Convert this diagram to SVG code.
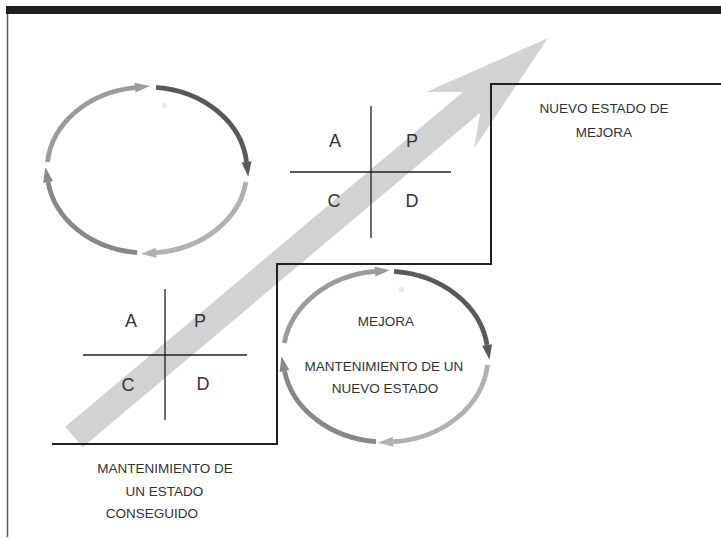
<svg xmlns="http://www.w3.org/2000/svg" width="721" height="539" viewBox="0 0 721 539">
<style>
.t{font-family:"Liberation Sans",Arial,sans-serif;fill:#333;text-anchor:middle}
.lbl{font-size:13.5px}
.big{font-size:18px}
.ln{stroke:#231f20;fill:none}
.arc{fill:none;stroke-width:4.8}
.c1{stroke:#9b9b9d}.c2{stroke:#59595b}.c3{stroke:#b1b1b3}.c4{stroke:#88888a}
</style>
<defs>
<marker id="m1" markerUnits="userSpaceOnUse" markerWidth="20" markerHeight="12" refX="0" refY="6" orient="auto" overflow="visible"><path d="M0,1 L15,6 L0,11 z" fill="#9b9b9d"/></marker>
<marker id="m2" markerUnits="userSpaceOnUse" markerWidth="20" markerHeight="12" refX="0" refY="6" orient="auto" overflow="visible"><path d="M0,1 L15,6 L0,11 z" fill="#59595b"/></marker>
<marker id="m3" markerUnits="userSpaceOnUse" markerWidth="20" markerHeight="12" refX="0" refY="6" orient="auto" overflow="visible"><path d="M0,1 L15,6 L0,11 z" fill="#b1b1b3"/></marker>
<marker id="m4" markerUnits="userSpaceOnUse" markerWidth="20" markerHeight="12" refX="0" refY="6" orient="auto" overflow="visible"><path d="M0,1 L15,6 L0,11 z" fill="#88888a"/></marker>
</defs>
<rect width="721" height="539" fill="#fff"/>
<rect x="6" y="6" width="715" height="8" fill="#231f20"/>
<line x1="7.5" y1="14" x2="7.5" y2="537" stroke="#58585a" stroke-width="1.5"/>

<g id="progress-arrow">
<polygon points="548,38 473.9,148.7 480.2,112.7 82.7,447.3 65.3,426.7 462.8,92.1 426.3,92.1" fill="#d1d2d4"/>
</g>

<g id="connectors">
<polyline class="ln" stroke-width="2" points="52,444 277,444 277,264 491,264 491,84 721,84"/>
</g>

<g id="pdca-top">
<line class="ln" stroke-width="1.3" x1="371" y1="106" x2="371" y2="238"/>
<line class="ln" stroke-width="1.3" x1="290" y1="172" x2="451" y2="172"/>
<text class="t big" x="335" y="147">A</text>
<text class="t big" x="412" y="147">P</text>
<text class="t big" x="334" y="207">C</text>
<text class="t big" x="412" y="207">D</text>
</g>

<g id="pdca-bottom">
<line class="ln" stroke-width="1.3" x1="165" y1="289" x2="165" y2="420"/>
<line class="ln" stroke-width="1.3" x1="83" y1="355" x2="247" y2="355"/>
<text class="t big" x="131" y="327">A</text>
<text class="t big" x="200" y="327">P</text>
<text class="t big" x="128" y="391">C</text>
<text class="t big" x="203" y="390">D</text>
</g>

<g id="cycle-top">
<path class="arc c1" marker-end="url(#m1)" d="M47.46,162.04 A100,83 0 0 1 134.99,87.6"/>
<path class="arc c2" marker-end="url(#m2)" d="M156.06,87.34 A100,83 0 0 1 246.52,161.9"/>
<path class="arc c3" marker-end="url(#m3)" d="M245.95,181.98 A100,83 0 0 1 156.06,252.66"/>
<path class="arc c4" marker-end="url(#m4)" d="M137.07,252.59 A100,83 0 0 1 48.07,182.12"/>
<rect x="162" y="103" width="5" height="5" fill="#e8e8e8"/>
</g>

<g id="cycle-bottom">
<path class="arc c1" marker-end="url(#m1)" d="M284.29,342.98 A102.5,85.5 0 0 1 374.96,271.45"/>
<path class="arc c2" marker-end="url(#m2)" d="M394.08,271.3 A102.5,85.5 0 0 1 487.06,344.97"/>
<path class="arc c3" marker-end="url(#m3)" d="M487.49,364.99 A102.5,85.5 0 0 1 393.01,441.77"/>
<path class="arc c4" marker-end="url(#m4)" d="M376.03,441.63 A102.5,85.5 0 0 1 284.48,370.98"/>
<rect x="399" y="287" width="5" height="5" fill="#e8e8e8"/>
<text class="t lbl" x="386" y="326">MEJORA</text>
<text class="t lbl" x="384" y="371">MANTENIMIENTO DE UN</text>
<text class="t lbl" x="385" y="393">NUEVO ESTADO</text>
</g>

<g id="label-new-state">
<text class="t lbl" x="604" y="113">NUEVO ESTADO DE</text>
<text class="t lbl" x="604" y="137">MEJORA</text>
</g>

<g id="label-maintained">
<text class="t lbl" x="165" y="473">MANTENIMIENTO DE</text>
<text class="t lbl" x="164.5" y="496">UN ESTADO</text>
<text class="t lbl" x="152" y="518">CONSEGUIDO</text>
</g>
</svg>
